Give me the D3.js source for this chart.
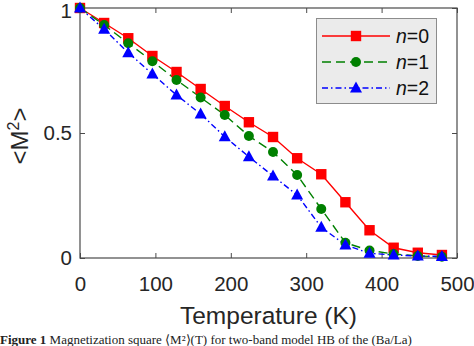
<!DOCTYPE html>
<html>
<head>
<meta charset="utf-8">
<script src="https://cdn.jsdelivr.net/npm/d3@7/dist/d3.min.js"></script>
<style>
  html, body { margin: 0; padding: 0; background: #fff; }
  svg { display: block; }
</style>
</head>
<body>
<svg id="chart" width="474" height="346"></svg>
<script>
// Temperature samples (K)
const temperature = [0, 32, 64, 96, 128, 160, 192, 224, 256, 288, 320, 352, 384, 416, 448, 480];

// <M^2> for each n
const m2_n0 = [1.000, 0.940, 0.879, 0.808, 0.744, 0.676, 0.608, 0.543, 0.484, 0.399, 0.335, 0.223, 0.111, 0.041, 0.021, 0.012];
const m2_n1 = [1.000, 0.932, 0.859, 0.787, 0.712, 0.642, 0.572, 0.488, 0.424, 0.332, 0.196, 0.061, 0.030, 0.016, 0.008, 0.005];
const m2_n2 = [1.000, 0.915, 0.821, 0.736, 0.652, 0.576, 0.485, 0.405, 0.328, 0.252, 0.123, 0.052, 0.019, 0.012, 0.008, 0.006];

const seriesNames = ["n=0", "n=1", "n=2"];
const xTicks = [0, 100, 200, 300, 400, 500];
const yTicks = [0, 0.5, 1];
const yTickLabels = ["0", "0.5", "1"];

const series = [
  { name: seriesNames[0], values: m2_n0, color: "#ff0000", dash: null, marker: "square" },
  { name: seriesNames[1], values: m2_n1, color: "#008000", dash: "9,5", marker: "circle" },
  { name: seriesNames[2], values: m2_n2, color: "#0000ff", dash: "6,3,1.5,3", marker: "triangle" }
];

const svg = d3.select("#chart");
const L = 80, R = 457, T = 8, B = 258;

const x = d3.scaleLinear().domain([0, 500]).range([L, R]);
const y = d3.scaleLinear().domain([0, 1]).range([B, T]);

const axisColor = "#4a4a4a";
const textColor = "#262626";
const font = "'Liberation Sans', Arial, Helvetica, sans-serif";

// axes (ticks pointing inward, box on)
const gx = svg.append("g").attr("transform", `translate(0,${B})`)
  .call(d3.axisBottom(x).tickValues(xTicks).tickSizeInner(-5).tickSizeOuter(0).tickPadding(18));
const gxt = svg.append("g").attr("transform", `translate(0,${T})`)
  .call(d3.axisTop(x).tickValues(xTicks).tickSizeInner(-5).tickSizeOuter(0).tickFormat(""));
const gy = svg.append("g").attr("transform", `translate(${L},0)`)
  .call(d3.axisLeft(y).tickValues(yTicks).tickSizeInner(-5).tickSizeOuter(0).tickPadding(8)
    .tickFormat((d, i) => yTickLabels[i]));
const gyr = svg.append("g").attr("transform", `translate(${R},0)`)
  .call(d3.axisRight(y).tickValues(yTicks).tickSizeInner(-5).tickSizeOuter(0).tickFormat(""));

[gx, gxt, gy, gyr].forEach(g => {
  g.select(".domain").remove();
  g.selectAll(".tick line").attr("stroke", axisColor);
  g.selectAll("text").attr("fill", textColor).style("font-family", font).style("font-size", "20.5px");
});
// keep the top label inside the frame
gy.selectAll(".tick text").filter(d => d === 1).attr("dy", "0.45em");

svg.append("rect")
  .attr("x", L).attr("y", T).attr("width", R - L).attr("height", B - T)
  .attr("fill", "none").attr("stroke", axisColor).attr("stroke-width", 1.2);

// marker shapes
function drawMarker(g, kind, cx, cy, color) {
  if (kind === "square") {
    g.append("rect").attr("x", cx - 5.2).attr("y", cy - 5.2).attr("width", 10.4).attr("height", 10.4)
      .attr("fill", color);
  } else if (kind === "circle") {
    g.append("circle").attr("cx", cx).attr("cy", cy).attr("r", 5).attr("fill", color);
  } else {
    g.append("path").attr("d", `M${cx},${cy - 6.5}L${cx + 6},${cy + 4.5}L${cx - 6},${cy + 4.5}Z`)
      .attr("fill", color);
  }
}

const plot = svg.append("g");
const line = d3.line().x((d, i) => x(temperature[i])).y(d => y(d));

series.forEach(s => {
  plot.append("path").datum(s.values)
    .attr("d", line)
    .attr("fill", "none")
    .attr("stroke", s.color)
    .attr("stroke-width", 1.4)
    .attr("stroke-dasharray", s.dash);
});
series.forEach(s => {
  const g = plot.append("g");
  s.values.forEach((v, i) => drawMarker(g, s.marker, x(temperature[i]), y(v), s.color));
});

// legend
const lg = svg.append("g");
lg.append("rect").attr("x", 316.5).attr("y", 18.5).attr("width", 120).attr("height", 85)
  .attr("fill", "#ebebeb").attr("stroke", "#8c8c8c").attr("stroke-width", 1);
series.forEach((s, i) => {
  const ly = 36 + i * 26;
  lg.append("line").attr("x1", 322).attr("x2", 390).attr("y1", ly).attr("y2", ly)
    .attr("stroke", s.color).attr("stroke-width", 1.4).attr("stroke-dasharray", s.dash);
  drawMarker(lg, s.marker, 356, ly, s.color);
  const t = lg.append("text").attr("x", 396).attr("y", ly + 7)
    .attr("fill", "#111").style("font-family", font).style("font-size", "19.5px");
  const parts = s.name.split("=");
  t.append("tspan").style("font-style", "italic").text(parts[0]);
  t.append("tspan").text("=" + parts[1]);
});

// axis titles
svg.append("text")
  .attr("x", (L + R) / 2).attr("y", 324)
  .attr("text-anchor", "middle")
  .attr("fill", textColor).style("font-family", font).style("font-size", "24.5px")
  .text("Temperature (K)");

const yl = svg.append("text")
  .attr("transform", `translate(28,${(T + B) / 2 + 3}) rotate(-90)`)
  .attr("text-anchor", "middle")
  .attr("fill", textColor).style("font-family", font).style("font-size", "24px");
yl.append("tspan").text("<M");
yl.append("tspan").attr("dy", -9).style("font-size", "16px").text("2");
yl.append("tspan").attr("dy", 9).text(">");

// figure caption
const cap = svg.append("text").attr("x", 0).attr("y", 344)
  .attr("fill", "#222").style("font-family", "'Liberation Serif', 'Times New Roman', serif").style("font-size", "13px");
cap.append("tspan").style("font-weight", "bold").text("Figure 1");
cap.append("tspan").text(" Magnetization square ⟨M²⟩(T) for two-band model HB of the (Ba/La)");
</script>
</body>
</html>
